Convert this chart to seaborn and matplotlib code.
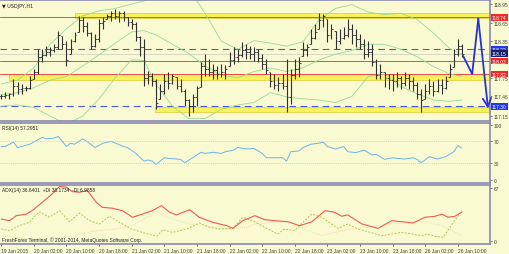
import numpy as np
import pandas as pd
import matplotlib
matplotlib.use("Agg")
import matplotlib.pyplot as plt
import seaborn as sns

sns.set_style("white")
plt.rcParams['font.family'] = ['Liberation Sans', 'DejaVu Sans']

# ---------------- data ----------------
high = [117.50,117.53,117.52,117.74,117.69,117.66,117.63,117.79,117.90,118.22,
        118.22,118.27,118.25,118.30,118.51,118.43,118.35,118.39,118.50,118.76,
        118.74,118.66,118.50,118.47,118.71,118.74,118.79,118.84,118.87,118.84,
        118.84,118.74,118.71,118.66,118.43,118.39,117.87,117.84,117.74,117.66,
        117.82,117.85,117.82,117.77,117.74,117.58,117.42,117.50,117.63,118.01,
        118.14,118.06,117.98,117.95,117.98,117.97,118.17,118.25,118.22,118.34,
        118.30,118.27,118.25,118.22,118.14,118.06,117.85,117.82,117.77,117.82,
        118.06,117.90,118.06,118.09,118.34,118.30,118.55,118.63,118.81,118.79,
        118.71,118.63,118.51,118.55,118.58,118.71,118.63,118.55,118.47,118.39,
        118.35,118.30,118.06,117.98,117.85,117.82,117.82,117.85,117.79,117.85,
        117.82,117.77,117.69,117.58,117.66,117.74,117.71,117.74,117.74,117.79,
        117.98,118.22,118.39,118.30]
low = [117.42,117.44,117.42,117.47,117.50,117.50,117.55,117.58,117.74,117.82,
       118.01,118.11,118.11,118.17,118.22,118.22,117.95,118.14,118.34,118.50,
       118.50,118.43,118.22,118.26,118.34,118.55,118.71,118.68,118.71,118.66,
       118.68,118.60,118.55,118.35,118.11,117.63,117.66,117.63,117.26,117.42,
       117.50,117.58,117.66,117.58,117.53,117.31,117.14,117.21,117.31,117.61,
       117.79,117.79,117.74,117.74,117.77,117.74,117.95,117.98,118.01,118.09,
       118.06,118.06,118.03,118.01,117.90,117.82,117.61,117.58,117.55,117.58,
       117.21,117.34,117.74,117.77,118.11,118.11,118.30,118.39,118.55,118.58,
       118.34,118.39,118.22,118.30,118.39,118.42,118.30,118.26,118.22,118.06,
       118.09,117.95,117.74,117.74,117.61,117.58,117.55,117.61,117.58,117.63,
       117.58,117.55,117.42,117.21,117.42,117.50,117.47,117.53,117.50,117.58,
       117.77,117.93,118.11,118.10]
close = [117.46,117.48,117.50,117.62,117.58,117.60,117.60,117.72,117.85,118.10,
         118.12,118.18,118.20,118.25,118.45,118.30,118.05,118.35,118.45,118.70,
         118.60,118.48,118.28,118.38,118.65,118.68,118.75,118.80,118.76,118.80,
         118.74,118.66,118.62,118.42,118.25,117.75,117.78,117.70,117.35,117.55,
         117.70,117.68,117.78,117.62,117.55,117.40,117.30,117.45,117.60,117.95,
         117.90,117.85,117.88,117.82,117.86,117.90,118.05,118.10,118.12,118.20,
         118.18,118.15,118.18,118.08,117.98,117.88,117.70,117.65,117.68,117.62,
         117.45,117.80,117.90,118.00,118.20,118.25,118.40,118.50,118.70,118.75,
         118.45,118.55,118.35,118.40,118.45,118.55,118.45,118.38,118.30,118.15,
         118.18,118.02,117.80,117.85,117.75,117.72,117.70,117.75,117.68,117.75,
         117.70,117.65,117.50,117.40,117.55,117.62,117.55,117.65,117.60,117.70,
         117.90,118.15,118.28,118.15]

bb_bar = [0,4,8,12,16,20,24,28,32,35,38,42,46,50,54,58,62,66,70,74,78,82,86,90,94,98,102,106,110,113]
bb_up = [117.66,117.72,117.92,118.30,118.55,118.76,118.84,118.88,118.95,119.00,119.25,119.30,119.20,118.80,118.35,
         118.22,118.36,118.32,118.27,118.34,118.70,118.88,118.94,118.82,118.78,118.80,118.70,118.48,118.23,118.14]
bb_mid = [117.48,117.52,117.60,117.72,117.78,117.95,118.13,118.32,118.50,118.52,118.45,118.30,118.15,117.95,117.80,
          117.76,117.86,117.92,117.86,117.92,118.05,118.14,118.20,118.30,118.30,118.22,118.10,117.94,117.82,117.78]
bb_low = [117.30,117.32,117.28,117.14,117.01,117.14,117.42,117.76,118.05,118.04,117.65,117.30,117.10,117.10,117.25,
          117.32,117.36,117.52,117.45,117.42,117.40,117.36,117.46,117.78,117.82,117.62,117.50,117.40,117.38,117.40]

red_levels = [118.74, 118.03, 117.82]
blue_levels = [118.22, 117.30]
bid_price = 118.15
band_start = [18, 2, 37.6]
band_lo = [118.72, 117.72, 117.21]
band_hi = [118.80, 117.82, 117.29]
arrow_bar = [113.3, 115.5, 117.0, 119.4]
arrow_price = [118.11, 117.82, 118.71, 117.26]

rsi_bar = [0,1,3,4,5,7,9,10,11,13,14,16,17,18,20,21,23,25,27,28,30,31,33,35,36,37,38,40,41,44,45,47,49,50,52,54,55,
           57,58,60,62,64,65,69,70,71,73,74,76,78,79,80,82,84,85,87,89,91,92,94,96,97,99,101,102,103,105,107,109,111,112,113]
rsi_val = [60.5,60.5,68.5,58.7,60.5,64.8,72.8,77.2,74.7,75.9,79,60.5,66.7,64.8,74.6,69.8,58.7,66.7,69.8,66.7,60.5,58.7,
           48,34,35.8,34,27.8,40,38.9,37,30.9,40,50,48,50,48,51,54,58.7,56,57,48,40,40,34,51,52.5,58.7,64.8,66.7,68.5,
           60.5,56,60.5,51,49.4,54,45,46.3,37,40,38.9,37.6,40,37,30.9,42,37.6,42,51,62.4,57.3]

adx_bar = [0,2.0,3.7,6.1,7.6,10.1,12.5,14.3,16,17.4,19.2,21.1,23.3,24.8,27.3,29.7,32.2,34.6,37.1,39.3,41.3,43,46.2,
           48.6,51.8,55.3,56.8,59.2,62.2,64.6,67.1,70.3,73.2,76.2,79.4,81.8,83.5,85,88.5,92.4,95.8,98.3,101,103.9,
           106.4,108.1,109.6,111.3,113]
adx_val = [27.8,25.7,32,34,38.4,49,59.5,69,68,62.4,61.6,63.7,49,42.6,41.4,38.4,30,34,38.4,44.7,36.3,33,39.6,30,23.7,
           19.4,16,25.7,32,27,25.7,24.4,19.4,24.4,38.4,36.3,31.3,33,21.5,16,25.7,24.4,22.8,30,31.3,34,30,31.3,36.6]
pdi_bar = [0,2.0,4.4,6.9,9.3,11.8,14.3,16.7,19.2,21.6,24.1,26.5,29,31.9,34.6,38.1,39.6,42,45.5,48.6,51.1,53.6,56.8,
           59.2,62.2,64.6,67.8,69.5,72,74.4,76.2,78.6,82.6,85,87.5,89.9,93.4,95.8,98.3,100.7,103.2,104.4,106.4,108.4,
           110.6,113]
pdi_val = [15.2,13,19.4,23.7,37,30,38.4,24.4,35.4,25.7,21.5,31.3,23.7,15.2,11,5.9,14.3,11,15.2,22.8,17.3,15.2,16,30,
           24.4,17.3,8.9,15.2,13,25.7,34,30,16,21.5,15.2,11.8,6.7,8.9,11,8.9,6.7,8.9,5.9,4.7,21.5,38.2]
mdi_bar = [0,7.6,16,23.3,28.3,32.2,35.6,38.1,39.6,42,46.2,50.4,55.3,60.2,62.2,67.1,70.3,74.4,78.6,83.5,89.2,95.8,
           100.7,103.9,108.1,113]
mdi_val = [6.7,2.5,4.7,13,15.2,19.4,30,38.4,32,27.8,21.5,19.4,15.2,17.3,21.5,23.7,24.4,15.2,6.7,13,17.3,21.5,23.7,
           24.4,19.4,7.0]

tick_bars = [0, 8, 16, 24, 32, 40, 48, 56, 64, 72, 80, 88, 96, 104, 112]
tick_labels = ["19 Jan 2015", "20 Jan 02:00", "20 Jan 10:00", "20 Jan 18:00", "21 Jan 02:00",
               "21 Jan 10:00", "21 Jan 18:00", "22 Jan 02:00", "22 Jan 10:00", "22 Jan 18:00",
               "23 Jan 02:00", "23 Jan 10:00", "23 Jan 18:00", "26 Jan 02:00", "26 Jan 10:00"]

price_ticks = [118.95, 118.65, 118.35, 117.75, 117.46, 117.15]
box_levels = [118.74, 118.22, 118.15, 118.03, 117.82, 117.30]
box_colors = ['#f02828', '#2038e8', '#182070', '#f02828', '#f02828', '#2038e8']

# ---------------- style ----------------
BG = '#fafad2'
FRAME = '#8080b0'
FS = 3.5
TXT = '#404040'

fig = plt.figure(figsize=(5.1, 2.55), dpi=100, facecolor=BG)
ax = fig.add_axes([0.0, 0.522, 0.961, 0.474])
ax_rsi = fig.add_axes([0.0, 0.280, 0.961, 0.234], sharex=ax)
ax_adx = fig.add_axes([0.0, 0.039, 0.961, 0.232], sharex=ax)

for a in (ax, ax_rsi, ax_adx):
    a.set_facecolor(BG)
    for s in ('top', 'bottom', 'right'):
        a.spines[s].set_color(FRAME)
        a.spines[s].set_linewidth(1.1)
    a.spines['left'].set_visible(False)
    a.yaxis.tick_right()
    a.tick_params(axis='y', labelsize=FS, length=1.5, width=0.5, colors=TXT, pad=1)
    a.grid(False)

n = len(close)
bars = np.arange(n)
df = pd.DataFrame({'bar': bars, 'high': high, 'low': low, 'close': close})
df['open'] = np.clip(df['close'].shift(1).fillna(df['close'].iloc[0]), df['low'], df['high'])

# bands and levels
for s, lo, hi in zip(band_start, band_lo, band_hi):
    ax.fill_between([s, 119.9], lo, hi, color='#f8f25c', edgecolor='#e2c83a', linewidth=0.5, zorder=1)
for lv in red_levels:
    ax.axhline(lv, color='#f04848', lw=0.7, zorder=2)
for lv in blue_levels:
    ax.axhline(lv, color='#4858e0', lw=0.8, dashes=(6, 4), zorder=2)
ax.axhline(bid_price, color='#c8c8c0', lw=0.5, zorder=1.5)

# bollinger bands
bb = pd.DataFrame({'bar': bb_bar, 'up': bb_up, 'mid': bb_mid, 'low': bb_low})
for col in ('up', 'mid', 'low'):
    sns.lineplot(data=bb, x='bar', y=col, ax=ax, color='#96d896', lw=0.6, zorder=2.5)

# OHLC bars
ax.vlines(df['bar'], df['low'], df['high'], color='#303030', lw=0.8, zorder=3)
ax.hlines(df['open'], df['bar'] - 0.45, df['bar'], color='#303030', lw=0.6, zorder=3)
ax.hlines(df['close'], df['bar'], df['bar'] + 0.45, color='#303030', lw=0.6, zorder=3)

# arrow
ax.plot(arrow_bar[:-1], arrow_price[:-1], color='#2432d8', lw=1.3, zorder=4, solid_capstyle='round')
ax.annotate('', xy=(arrow_bar[-1], arrow_price[-1]), xytext=(arrow_bar[-2], arrow_price[-2]),
            arrowprops=dict(arrowstyle='->,head_length=0.5,head_width=0.25', color='#2432d8', lw=1.3,
                            mutation_scale=12, shrinkA=0, shrinkB=0), zorder=4, annotation_clip=False)

ax.set_xlim(-0.3, 119.9)
ax.set_ylim(117.063, 119.015)
ax.set_yticks(price_ticks)
ax.set_yticklabels([f"{v:.2f}" for v in price_ticks])
ax.set_xlabel(''); ax.set_ylabel('')
ytr = ax.get_yaxis_transform()
for lv, c in zip(box_levels, box_colors):
    ax.text(1.004, lv, f"{lv:.2f}", transform=ytr, fontsize=FS, color='white', va='center', ha='left',
            bbox=dict(boxstyle='square,pad=0.2', fc=c, ec='none'), clip_on=False, zorder=6)
ax.text(0.004, 0.975, "\u25BC USDJPY,H1", transform=ax.transAxes, fontsize=FS, color='#202020',
        va='top', ha='left', family=['DejaVu Sans'])

# RSI
rsi = pd.DataFrame({'bar': rsi_bar, 'rsi': rsi_val})
sns.lineplot(data=rsi, x='bar', y='rsi', ax=ax_rsi, color='#6cb4ec', lw=0.7)
for lv in (70, 30):
    ax_rsi.axhline(lv, color='#c8c8b0', lw=0.5, ls=(0, (1.5, 1.5)))
ax_rsi.set_ylim(-5.5, 103.7)
ax_rsi.set_yticks([100, 70, 30, 0])
ax_rsi.set_xlabel(''); ax_rsi.set_ylabel('')
ax_rsi.text(0.004, 0.96, "RSI(14) 57.2951", transform=ax_rsi.transAxes, fontsize=FS, color='#202020',
            va='top', ha='left')

# ADX
adx = pd.DataFrame({'bar': adx_bar, 'adx': adx_val})
pdi = pd.DataFrame({'bar': pdi_bar, 'pdi': pdi_val})
mdi = pd.DataFrame({'bar': mdi_bar, 'mdi': mdi_val})
sns.lineplot(data=mdi, x='bar', y='mdi', ax=ax_adx, color='#eed6a8', lw=0.6, linestyle=(0, (1.2, 1.2)))
sns.lineplot(data=pdi, x='bar', y='pdi', ax=ax_adx, color='#a8cc48', lw=0.7, linestyle=(0, (2, 1.5)))
sns.lineplot(data=adx, x='bar', y='adx', ax=ax_adx, color='#f05a50', lw=0.8)
ax_adx.set_ylim(-3.8, 70.9)
ax_adx.set_yticks([67, 0])
ax_adx.set_xlabel(''); ax_adx.set_ylabel('')
ax_adx.text(0.004, 0.96, "ADX(14) 36.6401  +DI 38.1734  -DI 6.9858", transform=ax_adx.transAxes,
            fontsize=FS, color='#202020', va='top', ha='left')
ax_adx.text(0.004, 0.03, "FreshForex Terminal, \u00A9 2001-2014, MetaQuotes Software Corp.",
            transform=ax_adx.transAxes, fontsize=FS, color='#202020', va='bottom', ha='left')

ax_adx.set_xticks(tick_bars)
ax_adx.set_xticklabels(tick_labels, ha='left')
ax_adx.tick_params(axis='x', labelsize=FS, length=1.5, width=0.6, colors=TXT, pad=1, bottom=True)
for a in (ax, ax_rsi):
    a.tick_params(axis='x', bottom=False, labelbottom=False)

fig.savefig("out.png", dpi=100, facecolor=BG)
